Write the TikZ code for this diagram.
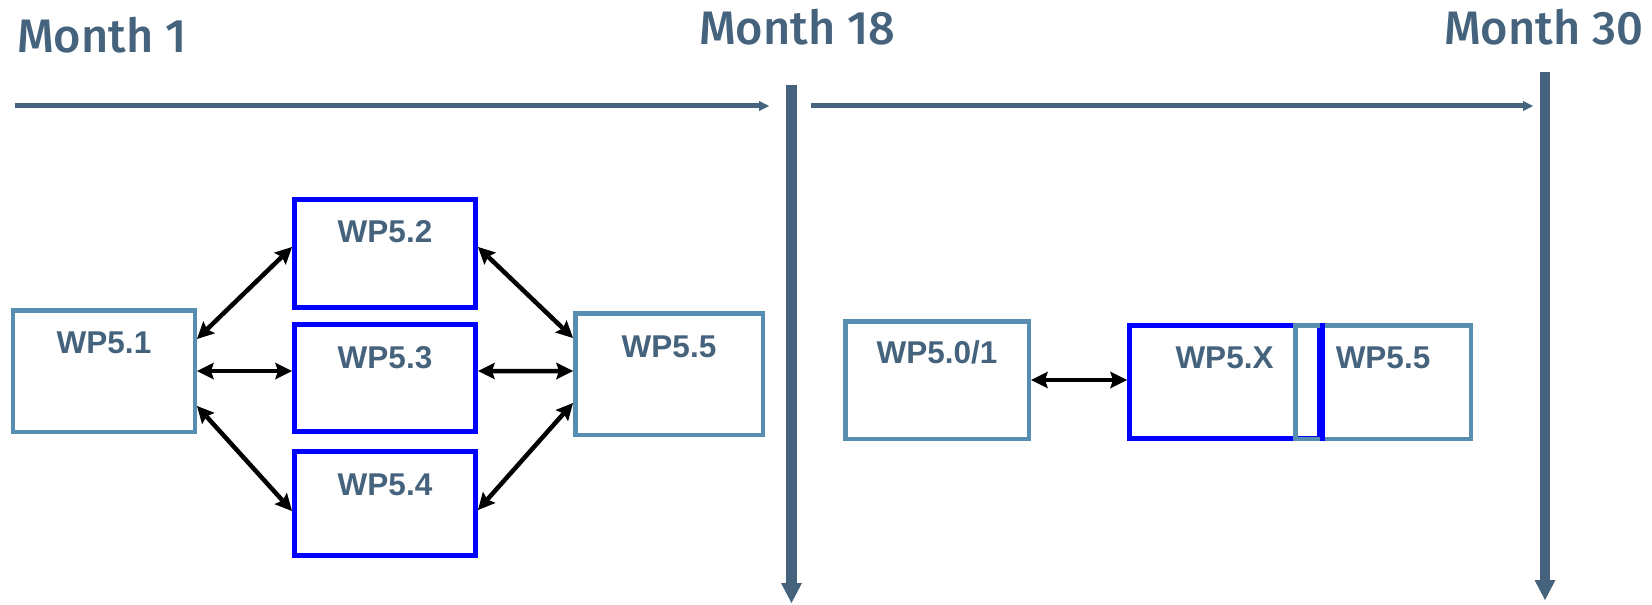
\documentclass[tikz,border=0pt]{standalone}
\usepackage{fontspec}
\setmainfont{Liberation Sans}
\newfontfamily\monthfont{Fira Sans Medium}
\usetikzlibrary{arrows.meta,calc}
\definecolor{slate}{RGB}{69,99,125}
\definecolor{steel}{RGB}{88,141,178}
\definecolor{wpblue}{RGB}{0,0,255}

\begin{document}
\begin{tikzpicture}[x=1bp,y=-1bp,
  monthlabel/.style={anchor=base west, inner sep=0, text=slate,
    font=\monthfont\fontsize{47bp}{50bp}\selectfont},
  wplabel/.style={anchor=base, inner sep=0, text=slate,
    font=\bfseries\fontsize{31.5bp}{34bp}\selectfont},
  steelbox/.style={draw=steel, line width=4.5bp, inner sep=0},
  bluebox/.style={draw=wpblue, line width=5bp, inner sep=0},
  timeline/.style={draw=slate, line width=5bp,
    -{Triangle[length=10bp,width=10bp,line width=0pt]}},
  milestone/.style={draw=slate, line width=10.5bp,
    -{Triangle[length=20bp,width=21bp,line width=0pt]}},
  link/.style={draw=black, line width=4.5bp,
    {Stealth[length=17bp,width=17bp,inset=3bp,line width=0pt]}-{Stealth[length=17bp,width=17bp,inset=3bp,line width=0pt]}},
]
\useasboundingbox (0,0) rectangle (1652,605);

% time axis
\node[monthlabel] (m1) at (17,52.5) {Month 1};
\node[monthlabel] (m18) at (699,45) {Month 18};
\node[monthlabel] (m30) at (1444,45) {Month 30};

\coordinate (l1s) at (15,106);
\coordinate (l1e) at (769,106);
\coordinate (l2s) at (811,106);
\coordinate (l2e) at (1533,106);
\coordinate (m18top) at (791.5,85);
\coordinate (m18tip) at (791.5,603);
\coordinate (m30top) at (1545,72);
\coordinate (m30tip) at (1545,600);

\draw[timeline] (l1s) -- (l1e);
\draw[timeline] (l2s) -- (l2e);
\draw[milestone] (m18top) -- (m18tip);
\draw[milestone] (m30top) -- (m30tip);

% first period
\node[steelbox, minimum width=181.5bp, minimum height=121.5bp] (b51) at (104,371) {};
\node[bluebox, minimum width=181bp, minimum height=108bp] (b52) at (385,253.5) {};
\node[bluebox, minimum width=181bp, minimum height=107bp] (b53) at (385,378) {};
\node[bluebox, minimum width=181bp, minimum height=104bp] (b54) at (385,503.5) {};
\node[steelbox, minimum width=187.5bp, minimum height=121.5bp] (b55a) at (669,374) {};

\node[wplabel] (t51) at (104,353) {WP5.1};
\node[wplabel] (t52) at (385,243) {WP5.2};
\node[wplabel] (t53) at (385,368) {WP5.3};
\node[wplabel] (t54) at (385,495) {WP5.4};
\node[wplabel] (t55a) at (669,357) {WP5.5};

\draw[link] ([yshift=32bp]b51.east) -- ([yshift=6.5bp]b52.west);
\draw[link] (b51.east) -- (b51.east -| b53.west);
\draw[link] ([yshift=-35bp]b51.east) -- ([yshift=-7.5bp]b54.west);
\draw[link] ([yshift=6.5bp]b52.east) -- ([yshift=36bp]b55a.west);
\draw[link] ([yshift=7bp]b53.east) -- ([yshift=3bp]b55a.west);
\draw[link] ([yshift=-6.5bp]b54.east) -- ([yshift=-29bp]b55a.west);

% second period
\node[steelbox, minimum width=183.5bp, minimum height=117.5bp] (b50) at (937,380) {};
\node[bluebox, minimum width=190bp, minimum height=113bp] (bX) at (1224.5,382) {};
\node[steelbox, minimum width=175.5bp, minimum height=113.5bp] (b55b) at (1383,382) {};
\draw[draw=wpblue, line width=5bp] (bX.north east) -- (bX.south east);

\node[wplabel] (t50) at (937,363) {WP5.0/1};
\node[wplabel] (tX) at (1224.5,368) {WP5.X};
\node[wplabel] (t55b) at (1383,368) {WP5.5};

\draw[link] (b50.east) -- (b50.east -| bX.west);
\end{tikzpicture}
\end{document}
